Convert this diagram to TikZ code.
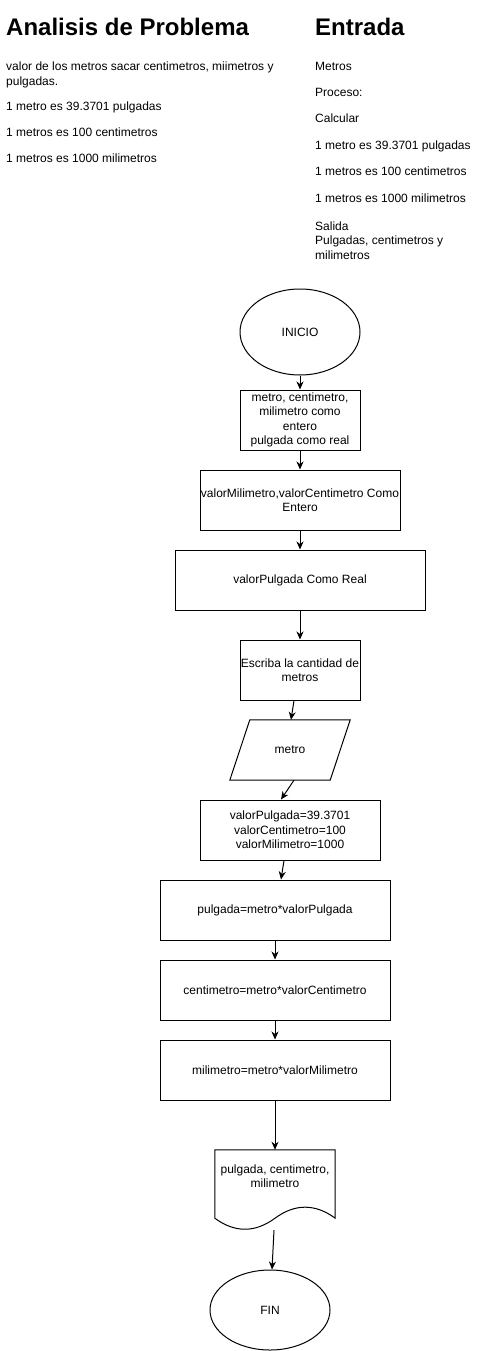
\documentclass[tikz,border=0pt]{standalone}
\usepackage{fontspec}
\setmainfont{Liberation Sans}
\usetikzlibrary{shapes.geometric,arrows.meta,calc}

\begin{document}
\begin{tikzpicture}[x=1pt,y=-1pt,
    txt/.style={inner sep=0pt,anchor=base west,align=left,font=\fontsize{12}{14.4}\selectfont},
    ttl/.style={inner sep=0pt,anchor=base west,font=\fontsize{24}{28.8}\selectfont\bfseries},
    box/.style={draw,line width=1pt,rectangle,inner sep=0pt,align=center,font=\fontsize{12}{14.4}\selectfont},
    term/.style={draw,line width=1pt,ellipse,inner sep=0pt,minimum width=120pt,font=\fontsize{12}{14.4}\selectfont},
    flow/.style={line width=1pt,-{Stealth[length=8pt,width=7pt,inset=2.5pt]}}]
                \useasboundingbox (0,0) rectangle (500,1351);
                % analisis
                \node[ttl] (T1) at (6,36) {Analisis de Problema};
                \node[txt] (A1) at (6,85.4) {valor de los metros sacar centimetros, miimetros y\\pulgadas.};
                \node[txt] (A2) at (6,111) {1 metro es 39.3701 pulgadas};
                \node[txt] (A3) at (6,137) {1 metros es 100 centimetros};
                \node[txt] (A4) at (6,163) {1 metros es 1000 milimetros};
                % entrada
                \node[ttl] (T2) at (315,36) {Entrada};
                \node[txt] (E1) at (315,71) {Metros};
                \node[txt] (E2) at (315,97) {Proceso:};
                \node[txt] (E3) at (315,123) {Calcular};
                \node[txt] (E4) at (315,150) {1 metro es 39.3701 pulgadas};
                \node[txt] (E5) at (315,176) {1 metros es 100 centimetros};
                \node[txt] (E6) at (315,203) {1 metros es 1000 milimetros};
                \node[txt] (E7) at (315,259) {Salida\\Pulgadas, centimetros y\\milimetros};
                % diagrama
                \node[term,minimum height=86pt] (INI) at (300,332) {INICIO};
                \node[box,minimum width=120pt,minimum height=60pt] (B1) at (300,420) {metro, centimetro,\\milimetro como\\entero\\pulgada como real};
                \draw[flow] (INI) -- (B1);
                \node[box,minimum width=200pt,minimum height=60pt] (B2) at (300,500) {valorMilimetro,valorCentimetro Como\\Entero};
                \draw[flow] (B1) -- (B2);
                \node[box,minimum width=250pt,minimum height=60pt] (B3) at (300,580) {valorPulgada Como Real};
                \draw[flow] (B2) -- (B3);
                \node[box,minimum width=120pt,minimum height=60pt] (B4) at (300,670) {Escriba la cantidad de\\metros};
                \draw[flow] (B3) -- (B4);
                \node[inner sep=0pt,minimum width=100pt,minimum height=60pt,font=\fontsize{12}{14.4}\selectfont] (P) at (290,750) {metro};
                \draw[line width=1pt] ([xshift=-10pt]P.south west) -- ([xshift=10pt]P.north west)
                    -- ([xshift=10pt]P.north east) -- ([xshift=-10pt]P.south east) -- cycle;
                \draw[flow] ([xshift=-6pt]B4.south) -- ([xshift=1pt]P.north);
                \node[box,minimum width=180pt,minimum height=60pt] (B5) at (290,830) {valorPulgada=39.3701\\valorCentimetro=100\\valorMilimetro=1000};
                \draw[flow] ([xshift=4pt]P.south) -- ([xshift=-9pt]B5.north);
                \node[box,minimum width=230pt,minimum height=60pt] (B6) at (275,910) {pulgada=metro*valorPulgada};
                \draw[flow] ([xshift=-6pt]B5.south) -- ([xshift=6pt]B6.north);
                \node[box,minimum width=230pt,minimum height=60pt] (B7) at (275,990) {centimetro=metro*valorCentimetro};
                \draw[flow] (B6) -- (B7);
                \node[box,minimum width=230pt,minimum height=60pt] (B8) at (275,1070) {milimetro=metro*valorMilimetro};
                \draw[flow] (B7) -- (B8);
                \node[inner sep=0pt,minimum width=120pt,minimum height=80pt] (D) at (275,1190) {};
                \draw[line width=1pt] (D.north west) -- (D.north east) -- ($(D.south east)+(0pt,12pt)$)
                    .. controls ($(D.south east)+(-20pt,26.7pt)$) and ($(D.south)+(20pt,26.7pt)$) .. ($(D.south)+(0pt,12pt)$)
                    .. controls ($(D.south)+(-20pt,-2.7pt)$) and ($(D.south west)+(20pt,-2.7pt)$) .. ($(D.south west)+(0pt,12pt)$) -- cycle;
                \node[align=center,inner sep=0pt,font=\fontsize{12}{14.4}\selectfont] (DT) at (275,1176) {pulgada, centimetro,\\milimetro};
                \draw[flow] (B8) -- (D);
                \node[term,minimum height=80pt] (FIN) at (270,1310) {FIN};
                \draw[flow] ([xshift=-1pt]D.south) -- ([xshift=2pt]FIN.north);
            \end{tikzpicture}
\end{document}
